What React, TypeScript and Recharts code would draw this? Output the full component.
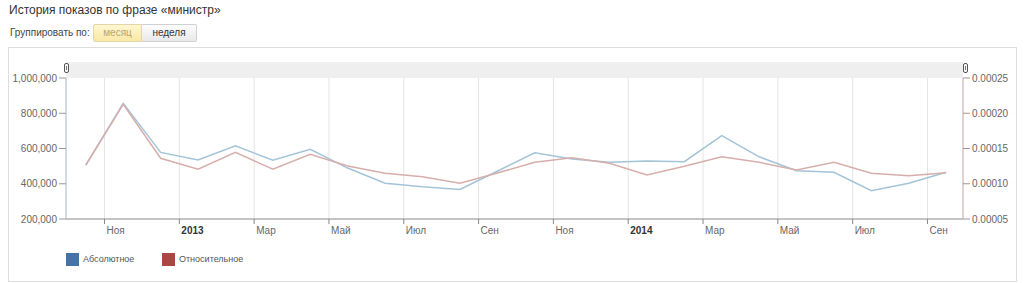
import React from "react";
import { LineChart, Line, XAxis, YAxis, CartesianGrid } from "recharts";

// month index: 0 = Oct 2012 ... 23 = Sep 2014, points sit mid-month
const months = [
  "2012-10", "2012-11", "2012-12", "2013-01", "2013-02", "2013-03",
  "2013-04", "2013-05", "2013-06", "2013-07", "2013-08", "2013-09",
  "2013-10", "2013-11", "2013-12", "2014-01", "2014-02", "2014-03",
  "2014-04", "2014-05", "2014-06", "2014-07", "2014-08", "2014-09",
];

const absolute = [
  506000, 856000, 578000, 535000, 616000, 533000, 595000, 489000,
  403000, 383000, 368000, 471000, 576000, 540000, 522000, 529000,
  525000, 673000, 553000, 474000, 465000, 361000, 403000, 465000,
];

const relative = [
  0.0001266, 0.0002127, 0.0001361, 0.0001205, 0.0001446, 0.0001205,
  0.0001418, 0.0001252, 0.0001148, 0.00011, 0.0001006, 0.0001152,
  0.0001304, 0.000137, 0.000129, 0.0001124, 0.0001247, 0.0001384,
  0.0001304, 0.0001195, 0.0001304, 0.0001148, 0.0001114, 0.0001157,
];

const xTicks = [1, 3, 5, 7, 9, 11, 13, 15, 17, 19, 21, 23];
const xTickLabels = ["Ноя", "2013", "Мар", "Май", "Июл", "Сен", "Ноя", "2014", "Мар", "Май", "Июл", "Сен"];
const absTicks = [200000, 400000, 600000, 800000, 1000000];
const relTicks = [0.00005, 0.0001, 0.00015, 0.0002, 0.00025];

const data = months.map((m, i) => ({ m, t: i + 0.5, abs: absolute[i], rel: relative[i] }));

const font = "'Liberation Sans', Arial, sans-serif";

function XTick(props: any) {
  const { x, y, payload } = props;
  const idx = xTicks.indexOf(payload.value);
  const label = xTickLabels[idx];
  const bold = /^\d+$/.test(label);
  return (
    <g>
      <line x1={x} x2={x} y1={y - 8} y2={y - 3} stroke="#888" />
      <text x={x + 2} y={y + 7} textAnchor="start" fontSize={10} fontFamily={font}
        fill={bold ? "#333" : "#666"} fontWeight={bold ? "bold" : "normal"}>
        {label}
      </text>
    </g>
  );
}

function Handle({ left }: { left: number }) {
  return (
    <div style={{ position: "absolute", left, top: 63, width: 5, height: 10, border: "1px solid #555",
      borderRadius: 2, background: "#f8f8f8", boxSizing: "border-box" }}>
      <div style={{ position: "absolute", left: 1, top: 2, width: 1, height: 4, background: "#777" }} />
    </div>
  );
}

export default function App() {
  return (
    <div style={{ position: "absolute", left: 0, top: 0, width: 1024, height: 283, background: "#fff", fontFamily: font, overflow: "hidden" }}>
      <div style={{ position: "absolute", left: 9, top: 3, fontSize: 12, lineHeight: "14px", color: "#333" }}>
        История показов по фразе «министр»
      </div>
      <div style={{ position: "absolute", left: 10, top: 27, fontSize: 10, lineHeight: "12px", color: "#444" }}>Группировать по:</div>
      <div style={{ position: "absolute", left: 93, top: 24, width: 49, height: 18, boxSizing: "border-box",
        background: "linear-gradient(#fff6d2, #f9e8a6)", border: "1px solid #e3d7a8", borderRadius: "2px 0 0 2px",
        fontSize: 10, color: "#b9a66d", textAlign: "center", lineHeight: "16px" }}>месяц</div>
      <div style={{ position: "absolute", left: 142, top: 24, width: 55, height: 18, boxSizing: "border-box",
        background: "linear-gradient(#fdfdfd, #e8e8e8)", border: "1px solid #d0d0d0", borderLeft: "none", borderRadius: "0 2px 2px 0",
        fontSize: 10, color: "#333", textAlign: "center", lineHeight: "16px" }}>неделя</div>

      <div style={{ position: "absolute", left: 8, top: 47, width: 1009, height: 235, border: "1px solid #ddd", boxSizing: "border-box" }} />
      <div style={{ position: "absolute", left: 66, top: 62, width: 897, height: 16, background: "#efefef" }} />

      <div style={{ position: "absolute", left: 0, top: 0 }}>
        <LineChart width={1024} height={283} data={data} margin={{ top: 78, right: 8, bottom: 34, left: 8 }}>
          <CartesianGrid horizontal={false} vertical stroke="#e4e4e4" yAxisId="abs" />
          <XAxis dataKey="t" type="number" domain={[-0.03, 23.95]} ticks={xTicks} allowDataOverflow
            height={30} stroke="#888" tickLine={false} tick={<XTick />} interval={0} />
          <YAxis yAxisId="abs" domain={[200000, 1000000]} ticks={absTicks} width={58} stroke="#b4c6d2"
            tickSize={7} tickMargin={2} tick={{ fontSize: 10, fill: "#666", fontFamily: font }}
            tickLine={{ stroke: "#999" }}
            tickFormatter={(v: number) => v.toLocaleString("en-US")} />
          <YAxis yAxisId="rel" orientation="right" domain={[0.00005, 0.00025]} ticks={relTicks} width={53}
            stroke="#d4b0b0" tickSize={7} tickMargin={2} tick={{ fontSize: 10, fill: "#666", fontFamily: font }}
            tickLine={{ stroke: "#999" }}
            tickFormatter={(v: number) => v.toFixed(5)} />
          <Line yAxisId="abs" dataKey="abs" stroke="#a3c4d8" strokeWidth={1.5} dot={false} isAnimationActive={false} />
          <Line yAxisId="rel" dataKey="rel" stroke="#d6aeab" strokeWidth={1.5} dot={false} isAnimationActive={false} />
        </LineChart>
      </div>

      <Handle left={64} />
      <Handle left={963} />

      <div style={{ position: "absolute", left: 66, top: 253, width: 13, height: 13, background: "#4572a7" }} />
      <div style={{ position: "absolute", left: 83, top: 254, fontSize: 9, color: "#555" }}>Абсолютное</div>
      <div style={{ position: "absolute", left: 162, top: 253, width: 13, height: 13, background: "#aa4643" }} />
      <div style={{ position: "absolute", left: 179, top: 254, fontSize: 9, color: "#555" }}>Относительное</div>
    </div>
  );
}
